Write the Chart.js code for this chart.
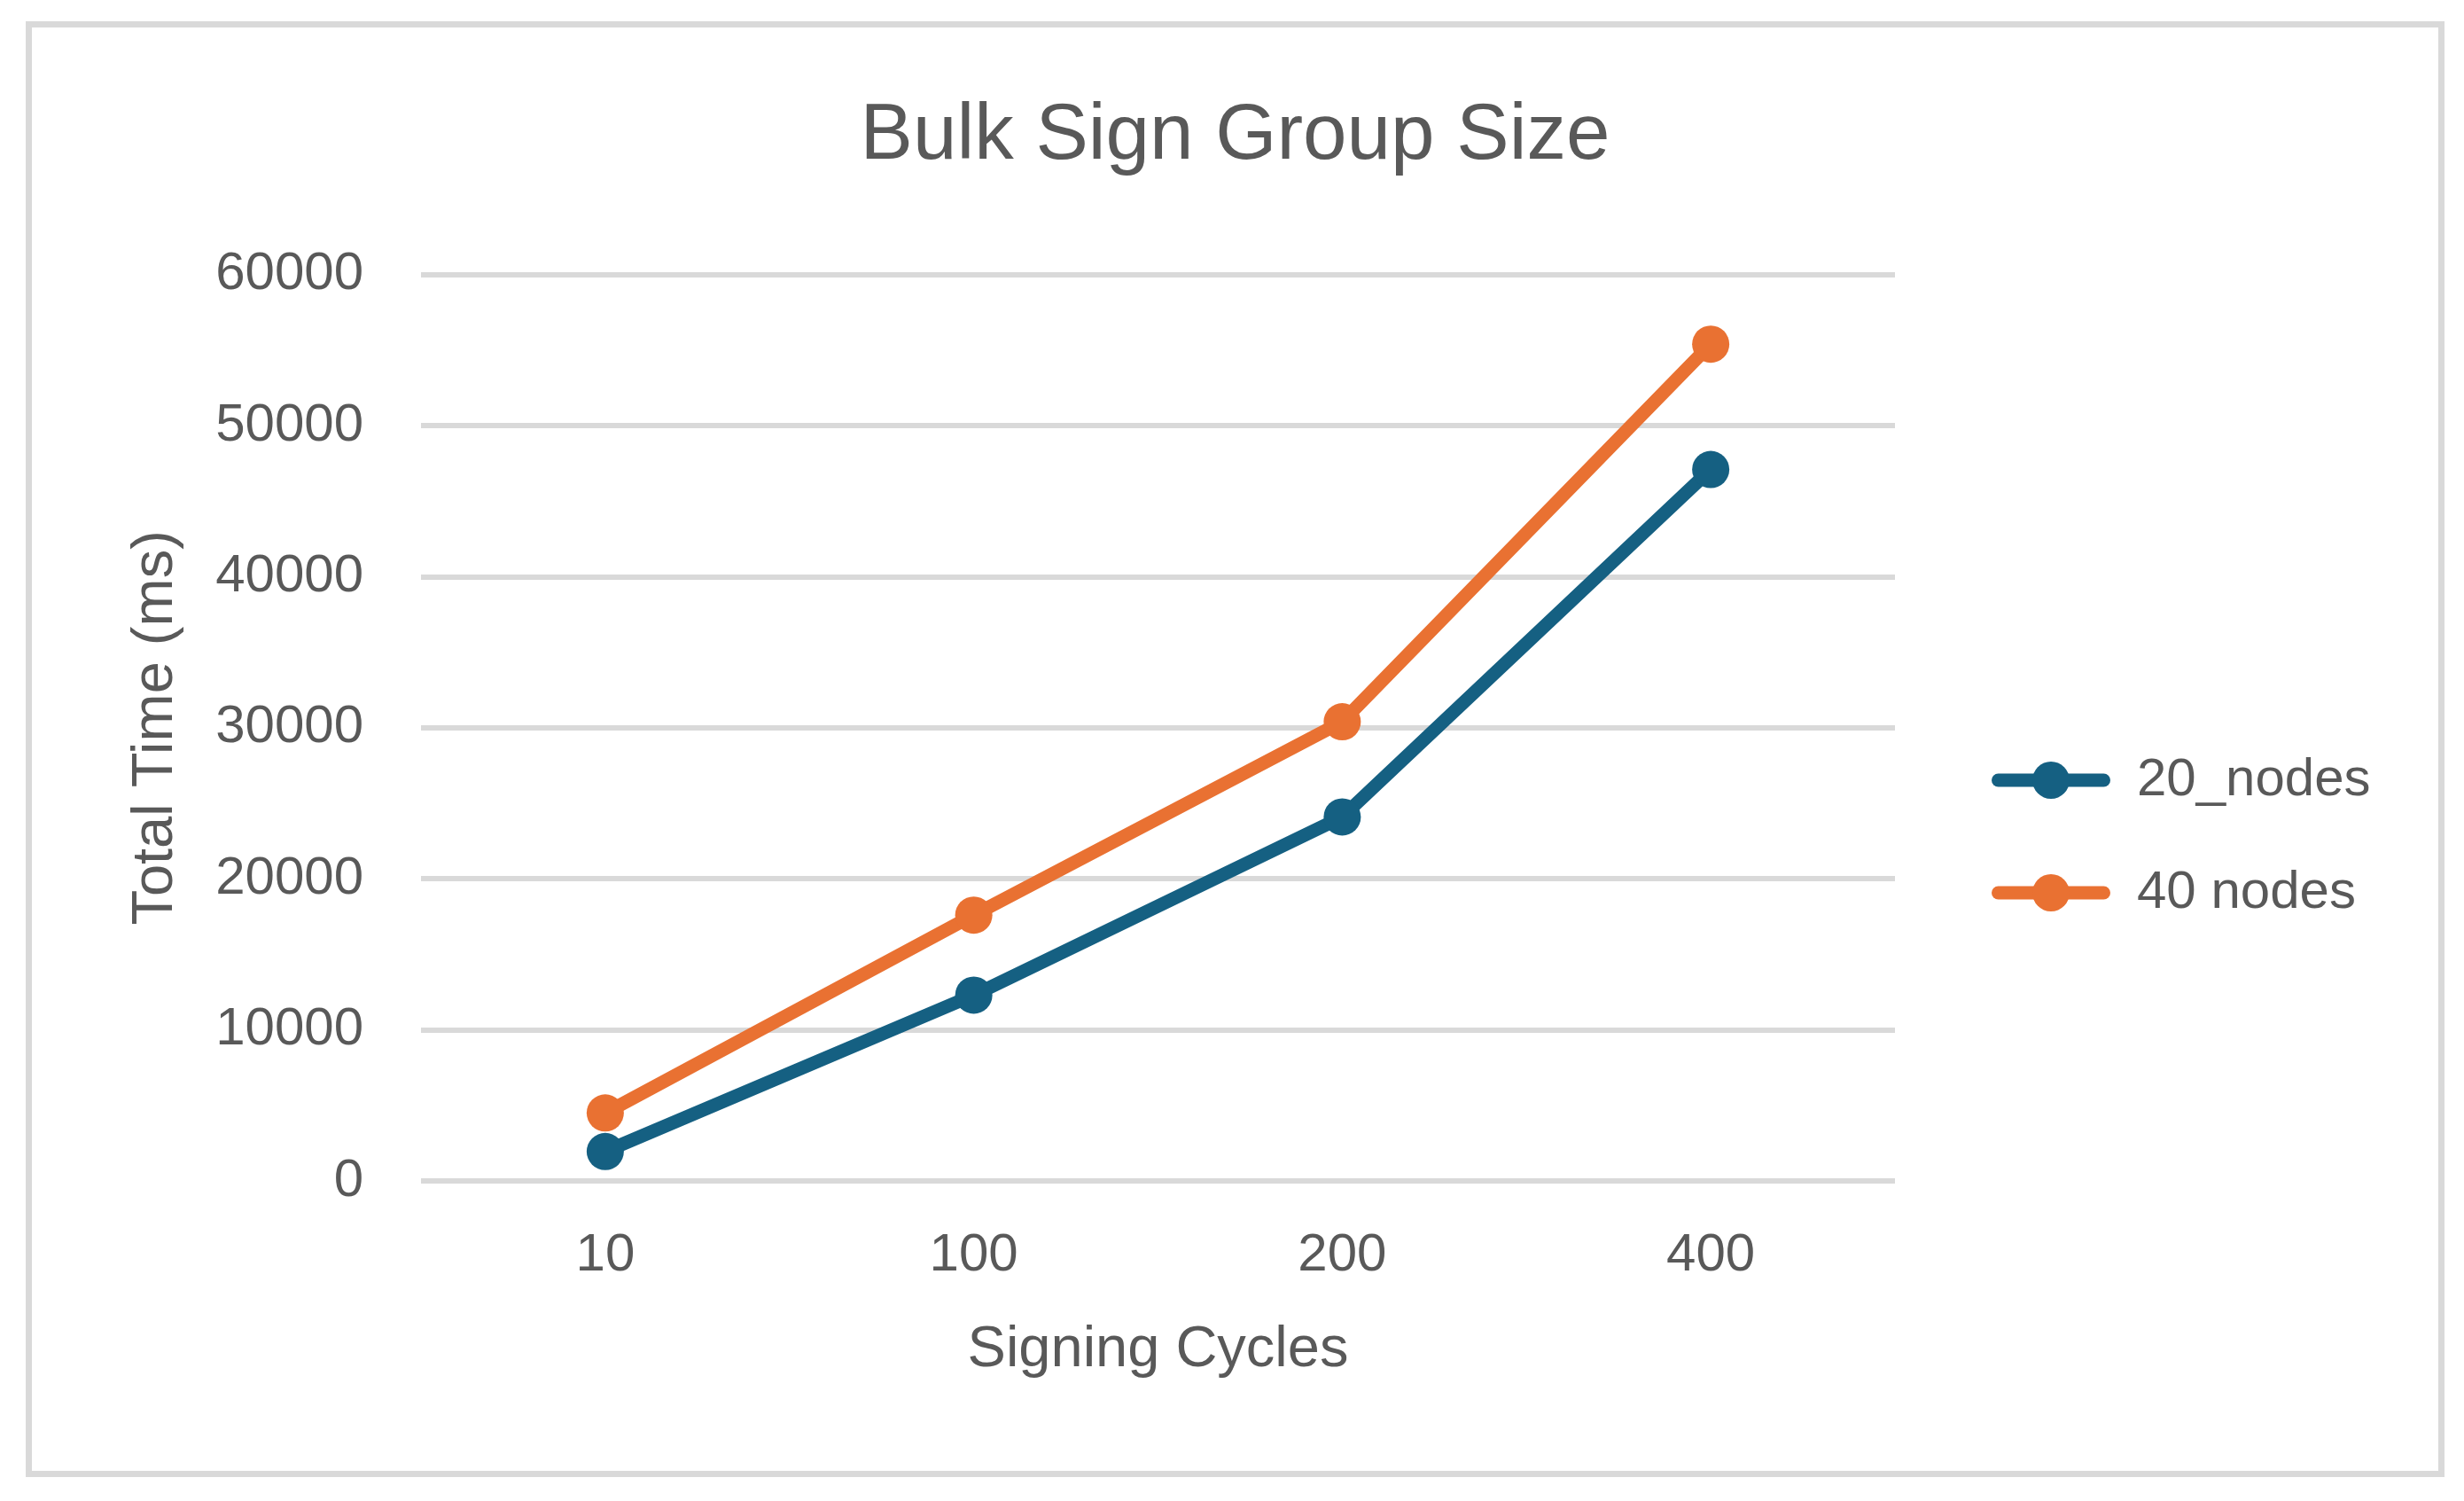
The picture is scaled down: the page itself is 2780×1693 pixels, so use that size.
<!DOCTYPE html>
<html>
<head>
<meta charset="utf-8">
<script src="https://cdn.jsdelivr.net/npm/chart.js@4.4.1/dist/chart.umd.min.js"></script>
<style>
  html, body { margin: 0; padding: 0; background: #ffffff; }
  #frame {
    position: absolute; left: 29px; top: 24px;
    width: 2729px; height: 1642px; box-sizing: border-box;
    border: 7px solid #d9d9d9; background: #ffffff;
  }
  #c { display: block; }
</style>
</head>
<body>
<div id="frame"><canvas id="c" width="2715" height="1628"></canvas></div>
<script>
// ---- data ----
const categories = ['10', '100', '200', '400'];
const nodes20 = [1950, 12300, 24100, 47100];
const nodes40 = [4500, 17600, 30400, 55400];
const seriesNames = ['20_nodes', '40 nodes'];
const seriesColors = ['#156082', '#E97132'];
const yTickMin = 0, yTickMax = 60000, yTickStep = 10000;
const chartTitle = 'Bulk Sign Group Size';
const xTitle = 'Signing Cycles';
const yTitle = 'Total Time (ms)';

// ---- layout constants ----
const FONT = "'Liberation Sans', Arial, sans-serif";
const TEXT = '#595959';
const CANVAS_W = 2715;
const AREA_LEFT = 439, AREA_RIGHT = 2102;
const SWATCH_W = 176, SWATCH_H = 50;

function makeSwatch(color) {
  const c = document.createElement('canvas');
  c.width = SWATCH_W; c.height = SWATCH_H;
  const g = c.getContext('2d');
  g.strokeStyle = color; g.lineWidth = 15; g.lineCap = 'round';
  g.beginPath(); g.moveTo(42 + 7.5, SWATCH_H / 2); g.lineTo(SWATCH_W - 7.5, SWATCH_H / 2); g.stroke();
  g.fillStyle = color;
  g.beginPath(); g.arc((42 + SWATCH_W) / 2, SWATCH_H / 2, 21, 0, Math.PI * 2); g.fill();
  return c;
}
const swatches = seriesColors.map(makeSwatch);

let padLR = 0;
let yAxisWidth = AREA_LEFT;

const config = {
  type: 'line',
  data: {
    labels: categories,
    datasets: [nodes20, nodes40].map((vals, i) => ({
      label: seriesNames[i],
      data: vals,
      borderColor: seriesColors[i],
      backgroundColor: seriesColors[i],
      borderWidth: 15,
      borderCapStyle: 'round',
      borderJoinStyle: 'round',
      pointRadius: 21,
      pointHoverRadius: 21,
      pointBorderWidth: 0,
      pointBackgroundColor: seriesColors[i],
      tension: 0,
      fill: false
    }))
  },
  options: {
    responsive: false,
    animation: false,
    devicePixelRatio: 1,
    layout: { padding: { left: 0, right: 0, top: 0, bottom: 0 } },
    plugins: {
      tooltip: { enabled: false },
      title: {
        display: true,
        text: chartTitle,
        color: TEXT,
        font: { family: FONT, size: 89, weight: 'normal', lineHeight: 1.2 },
        padding: { top: 70, bottom: 102 }
      },
      legend: {
        display: true,
        position: 'right',
        align: 'center',
        title: { display: true, text: '', font: { size: 10, lineHeight: 1 }, padding: { top: 187, bottom: 0 } },
        labels: {
          color: TEXT,
          font: { family: FONT, size: 60, lineHeight: 1.2 },
          usePointStyle: true,
          pointStyleWidth: SWATCH_W,
          padding: 67,
          generateLabels: (chart) => {
            const items = Chart.defaults.plugins.legend.labels.generateLabels(chart);
            items.forEach((it, i) => { it.pointStyle = swatches[i]; });
            return items;
          }
        }
      }
    },
    scales: {
      x: {
        type: 'category',
        offset: true,
        grid: { display: false, drawTicks: false },
        border: { display: false },
        ticks: { color: TEXT, font: { family: FONT, size: 60, lineHeight: 1.2 }, padding: 48, maxRotation: 0 },
        title: {
          display: true, text: xTitle, color: TEXT,
          font: { family: FONT, size: 65, lineHeight: 1.2 },
          padding: { top: 0, bottom: 97 }
        },
        afterFit: (s) => { s.height = 327; }
      },
      y: {
        min: yTickMin, max: yTickMax,
        grid: { color: '#d9d9d9', lineWidth: 6, drawTicks: false },
        border: { display: false },
        ticks: {
          stepSize: yTickStep,
          color: TEXT,
          font: { family: FONT, size: 60, lineHeight: 1.2 },
          padding: 65,
          callback: (v) => String(v)
        },
        title: {
          display: true, text: yTitle, color: TEXT,
          font: { family: FONT, size: 65, lineHeight: 1.2 },
          padding: { top: 99, bottom: 0 }
        },
        afterFit: (s) => { s.width = yAxisWidth; }
      }
    }
  }
};

const chart = new Chart(document.getElementById('c'), config);
// balance the space so the plot area and centred title line up
const lw = chart.legend.width;
padLR = Math.max(0, CANVAS_W - AREA_RIGHT - lw);
yAxisWidth = AREA_LEFT - padLR;
chart.options.layout.padding = { left: padLR, right: padLR, top: 0, bottom: 0 };
chart.options.scales.y.title.padding = { top: Math.max(0, 140 - padLR - 39), bottom: 0 };
chart.update();
</script>
</body>
</html>
